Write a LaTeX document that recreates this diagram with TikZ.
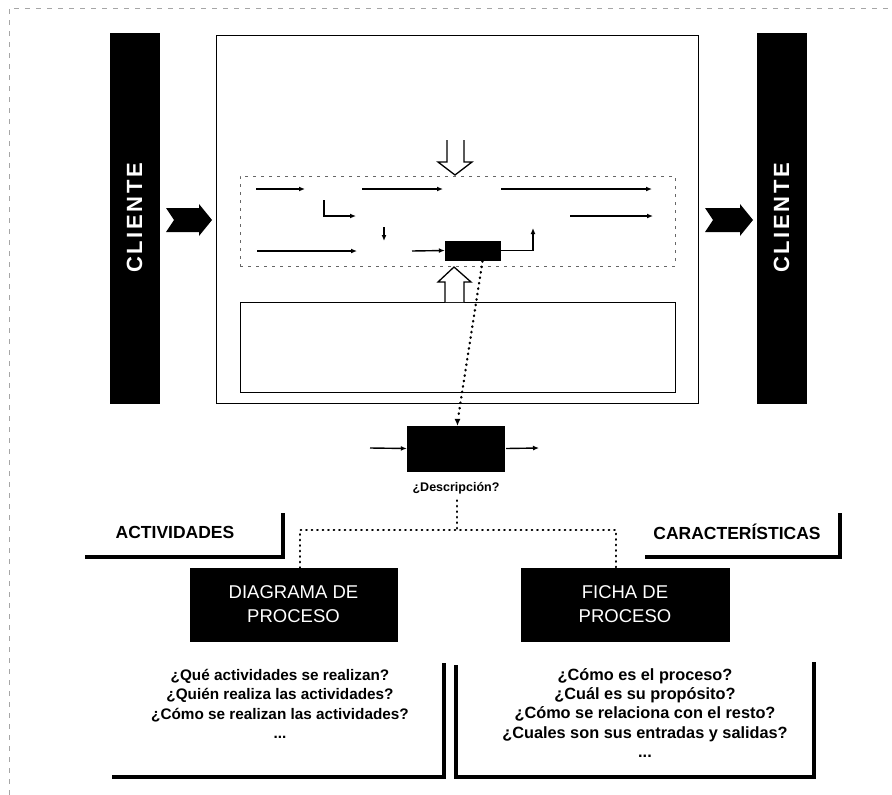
\documentclass[tikz,border=0pt]{standalone}
\usepackage{fontspec}
\setmainfont{Liberation Sans}
\usetikzlibrary{arrows.meta,calc}

\begin{document}
\begin{tikzpicture}[x=1pt,y=-1pt,
  blackbox/.style={draw=black,fill=black,text=white,inner sep=0pt,align=center},
  frame/.style={draw=black,line width=1pt,inner sep=0pt},
  flowbox/.style={draw=black!60,line width=0.8pt,dash pattern=on 3pt off 5pt,inner sep=0pt},
  flow/.style={line width=1.4pt,-{Latex[length=6pt,width=5pt]}},
  hollow/.style={draw=black,line width=1.3pt,fill=white,line join=miter},
  dots/.style={line width=2.4pt,line cap=round,dash pattern=on 0.5pt off 5pt},
  bracket/.style={line width=3.5pt},
  heading/.style={font=\bfseries\fontsize{17.5}{20}\selectfont,inner sep=0pt},
  clientlabel/.style={font=\bfseries\fontsize{22}{24}\selectfont},
  boxtitle/.style={font=\fontsize{18.5}{24}\selectfont},
  question/.style={align=center,inner sep=0pt},
]
\useasboundingbox (0,0) rectangle (892,795);

% faint page frame
\draw[black!35,line width=0.8pt,dash pattern=on 5pt off 6pt] (9,795) -- (9,8) -- (892,8);

% client bars
\node[blackbox,rotate=90,minimum width=370,minimum height=49,clientlabel] (clientL) at (134.5,218)
  {C\kern2.6pt L\kern2.6pt I\kern2.6pt E\kern2.6pt N\kern2.6pt T\kern2.6pt E};
\node[blackbox,rotate=90,minimum width=370,minimum height=49,clientlabel] (clientR) at (781.5,218)
  {C\kern2.6pt L\kern2.6pt I\kern2.6pt E\kern2.6pt N\kern2.6pt T\kern2.6pt E};

% notched block arrows into and out of the organisation
\fill (166,208) -- (199,208) -- (199,204) -- (212,220) -- (199,236) -- (199,232) -- (166,232) -- (174,220) -- cycle;
\fill (705,208) -- (740,208) -- (740,204) -- (753,220) -- (740,236) -- (740,232) -- (705,232) -- (713,220) -- cycle;

% organisation frame, process band and support band
\node[frame,minimum width=482,minimum height=368] (outer) at (457,219) {};
\node[flowbox,minimum width=435,minimum height=90] (band) at (457.5,221) {};
\node[frame,line width=0.9pt,minimum width=435,minimum height=90] (support) at (457.5,347) {};

% hollow arrows: from above into the band, from the support band up
\draw[hollow] (447,140) -- (447,162) -- (438,162) -- (455,175) -- (472,162) -- (464,162) -- (464,140);
\draw[hollow] (445,302) -- (445,282) -- (438,282) -- (454,267) -- (471,282) -- (464,282) -- (464,302);

% the highlighted process inside the band
\node[blackbox,minimum width=55,minimum height=19] (act) at (472.5,250.5) {};

% flow arrows in the band
\coordinate (f1a) at (256,189); \coordinate (f1b) at (305,189);
\coordinate (f2a) at (362,189); \coordinate (f2b) at (443,189);
\coordinate (f3a) at (501,189); \coordinate (f3b) at (652,189);
\coordinate (f4a) at (324,200); \coordinate (f4b) at (356,216);
\coordinate (f5a) at (570,216); \coordinate (f5b) at (653,216);
\coordinate (f6a) at (384,227); \coordinate (f6b) at (384,241);
\coordinate (f7a) at (257,251); \coordinate (f7b) at (357,251);
\coordinate (f8a) at (412,251);
\coordinate (f9b) at (533,228);
\draw[flow] (f1a) -- (f1b);
\draw[flow] (f2a) -- (f2b);
\draw[flow] (f3a) -- (f3b);
\draw[flow] (f4a) |- (f4b);
\draw[flow] (f5a) -- (f5b);
\draw[flow] (f6a) -- (f6b);
\draw[flow] (f7a) -- (f7b);
\draw[flow] (f8a) -- (act.west);
\draw[flow] (act.east) -| (f9b);

% zoom onto a single process
\node[blackbox,minimum width=97,minimum height=45] (desc) at (455.5,448.5) {};
\coordinate (din) at (370,448); \coordinate (dout) at (539,448);
\draw[flow] (din) -- (desc.west);
\draw[flow] (desc.east) ++(2,0) -- (dout);
\draw[dots,shorten >=4pt] ($(act.south)+(10,1)$) -- ($(desc.north)+(2,-4)$);
\draw[line width=1pt,-{Latex[length=7pt,width=6pt]}] ($(desc.north)+(2,-5)$) -- ($(desc.north)+(2,0)$);
\node[font=\bfseries\fontsize{12.5}{14}\selectfont] (desclab) at (456,488) {¿Descripción?};

% branch to the two descriptions
\coordinate (jc) at (457,530);
\coordinate (jl) at (300,530);
\coordinate (jr) at (616,530);
\node[blackbox,boxtitle,minimum width=207,minimum height=73] (diag) at (293.5,604.5) {DIAGRAMA DE\\PROCESO};
\node[blackbox,boxtitle,minimum width=208,minimum height=73] (ficha) at (625,604.5) {FICHA DE\\PROCESO};
\draw[dots] ($(desclab.south)+(1,3)$) -- (jc);
\draw[dots] (jl |- diag.north) -- (jl) -- (jr) -- (jr |- ficha.north);

% headings with their corner brackets
\node[heading] (hact) at (175,532) {ACTIVIDADES};
\node[heading] (hcar) at (737,532) {CARACTERÍSTICAS};
\coordinate (ba1) at (85,557);  \coordinate (ba2) at (283,513);
\coordinate (bc1) at (645,557); \coordinate (bc2) at (840,513);
\draw[bracket] (ba1) -| (ba2);
\draw[bracket] (bc1) -| (bc2);

% guiding questions
\node[question,font=\bfseries\fontsize{15.3}{19.5}\selectfont] (qleft) at (280,704)
  {¿Qué actividades se realizan?\\¿Quién realiza las actividades?\\¿Cómo se realizan las actividades?\\...};
\node[question,font=\bfseries\fontsize{16.3}{19.3}\selectfont] (qright) at (645,713)
  {¿Cómo es el proceso?\\¿Cuál es su propósito?\\¿Cómo se relaciona con el resto?\\¿Cuales son sus entradas y salidas?\\...};
\coordinate (ql1) at (112,777); \coordinate (ql2) at (444,663);
\coordinate (qr0) at (456,665); \coordinate (qr1) at (456,777); \coordinate (qr2) at (814,662);
\draw[bracket] (ql1) -| (ql2);
\draw[bracket] (qr0) -- (qr1) -| (qr2);
\end{tikzpicture}
\end{document}
